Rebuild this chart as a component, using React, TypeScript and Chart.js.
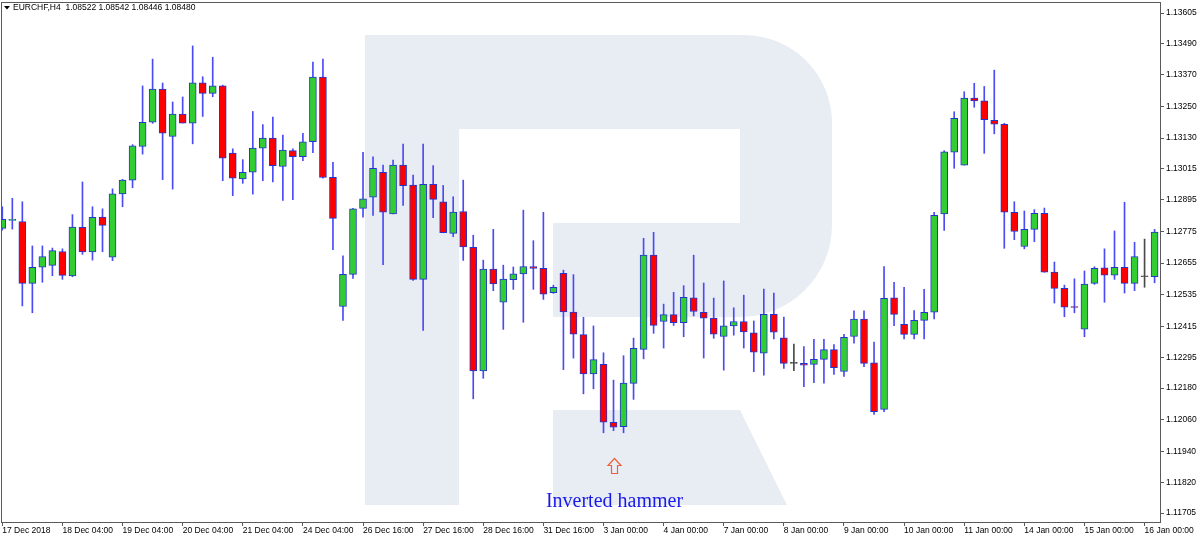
import React, { useEffect, useRef } from "react";
import { Chart, registerables } from "chart.js";

Chart.register(...registerables);

// ---- DATA (EURCHF, H4) ----
const opens = [
  1.12787, 1.12817, 1.12813, 1.12578, 1.12639, 1.12646, 1.12699, 1.12606, 1.12791, 1.12697,
  1.12830, 1.12677, 1.12918, 1.12970, 1.13098, 1.13190, 1.13316, 1.13136, 1.13221, 1.13187,
  1.13340, 1.13300, 1.13328, 1.13073, 1.12975, 1.13000, 1.13092, 1.13130, 1.13022, 1.13082,
  1.13059, 1.13116, 1.13362, 1.12981, 1.12490, 1.12612, 1.12863, 1.12905, 1.13000, 1.12842,
  1.13027, 1.12951, 1.12593, 1.12954, 1.12888, 1.12768, 1.12851, 1.12715, 1.12245, 1.12632,
  1.12506, 1.12592, 1.12614, 1.12642, 1.12635, 1.12542, 1.12616, 1.12469, 1.12383, 1.12234,
  1.12270, 1.12050, 1.12033, 1.12198, 1.12327, 1.12685, 1.12433, 1.12459, 1.12428, 1.12523,
  1.12468, 1.12446, 1.12376, 1.12416, 1.12433, 1.12390, 1.12313, 1.12460, 1.12371, 1.12274,
  1.12274, 1.12270, 1.12289, 1.12326, 1.12243, 1.12376, 1.12442, 1.12276, 1.12099, 1.12523,
  1.12422, 1.12384, 1.12437, 1.12468, 1.12842, 1.13076, 1.13027, 1.13282, 1.13271, 1.13197,
  1.13182, 1.12848, 1.12718, 1.12783, 1.12844, 1.12621, 1.12559, 1.12487, 1.12404, 1.12578,
  1.12637, 1.12609, 1.12639, 1.12578, 1.12603, 1.12603,
];
const highs = [
  1.12869, 1.12901, 1.12888, 1.12720, 1.12720, 1.12712, 1.12709, 1.12839, 1.12963, 1.12869,
  1.12861, 1.12937, 1.12973, 1.13105, 1.13328, 1.13430, 1.13339, 1.13267, 1.13286, 1.13480,
  1.13363, 1.13437, 1.13331, 1.13089, 1.13048, 1.13231, 1.13181, 1.13210, 1.13141, 1.13089,
  1.13148, 1.13419, 1.13430, 1.13038, 1.12682, 1.12863, 1.13076, 1.13059, 1.13027, 1.13046,
  1.13107, 1.12989, 1.13107, 1.13025, 1.12950, 1.12907, 1.12970, 1.12761, 1.12666, 1.12783,
  1.12647, 1.12640, 1.12856, 1.12740, 1.12848, 1.12571, 1.12628, 1.12611, 1.12449, 1.12416,
  1.12314, 1.12210, 1.12303, 1.12370, 1.12749, 1.12772, 1.12499, 1.12544, 1.12569, 1.12685,
  1.12579, 1.12522, 1.12587, 1.12485, 1.12533, 1.12435, 1.12556, 1.12541, 1.12450, 1.12347,
  1.12338, 1.12365, 1.12365, 1.12345, 1.12384, 1.12473, 1.12473, 1.12355, 1.12642, 1.12582,
  1.12563, 1.12474, 1.12555, 1.12848, 1.13082, 1.13230, 1.13306, 1.13338, 1.13326, 1.13388,
  1.13186, 1.12888, 1.12853, 1.12858, 1.12864, 1.12659, 1.12571, 1.12595, 1.12625, 1.12641,
  1.12709, 1.12777, 1.12886, 1.12734, 1.12746, 1.12783,
];
const lows = [
  1.12780, 1.12784, 1.12492, 1.12466, 1.12582, 1.12607, 1.12593, 1.12603, 1.12688, 1.12666,
  1.12698, 1.12664, 1.12869, 1.12941, 1.13069, 1.13186, 1.12972, 1.12936, 1.13187, 1.13108,
  1.13212, 1.13287, 1.12968, 1.12911, 1.12958, 1.12917, 1.12968, 1.12963, 1.12893, 1.12896,
  1.13044, 1.13074, 1.12978, 1.12706, 1.12437, 1.12597, 1.12829, 1.12836, 1.12649, 1.12842,
  1.12874, 1.12589, 1.12399, 1.12827, 1.12770, 1.12755, 1.12665, 1.12139, 1.12217, 1.12550,
  1.12403, 1.12555, 1.12430, 1.12555, 1.12517, 1.12540, 1.12250, 1.12294, 1.12158, 1.12177,
  1.12010, 1.12018, 1.12010, 1.12137, 1.12291, 1.12388, 1.12332, 1.12418, 1.12375, 1.12454,
  1.12294, 1.12369, 1.12248, 1.12381, 1.12332, 1.12242, 1.12229, 1.12367, 1.12255, 1.12246,
  1.12185, 1.12200, 1.12199, 1.12232, 1.12224, 1.12351, 1.12261, 1.12080, 1.12090, 1.12417,
  1.12367, 1.12367, 1.12367, 1.12443, 1.12779, 1.13015, 1.13027, 1.13247, 1.13072, 1.13146,
  1.12711, 1.12744, 1.12709, 1.12736, 1.12620, 1.12503, 1.12451, 1.12466, 1.12375, 1.12574,
  1.12506, 1.12593, 1.12541, 1.12550, 1.12563, 1.12580,
];
const closes = [
  1.12821, 1.12818, 1.12578, 1.12639, 1.12680, 1.12702, 1.12608, 1.12792, 1.12697, 1.12829,
  1.12798, 1.12918, 1.12970, 1.13100, 1.13190, 1.13316, 1.13149, 1.13221, 1.13187, 1.13340,
  1.13300, 1.13328, 1.13054, 1.12978, 1.13000, 1.13092, 1.13130, 1.13025, 1.13084, 1.13059,
  1.13116, 1.13362, 1.12980, 1.12825, 1.12612, 1.12861, 1.12899, 1.13015, 1.12848, 1.13027,
  1.12949, 1.12593, 1.12954, 1.12897, 1.12770, 1.12849, 1.12716, 1.12245, 1.12632, 1.12576,
  1.12594, 1.12614, 1.12642, 1.12635, 1.12537, 1.12563, 1.12469, 1.12385, 1.12234, 1.12288,
  1.12050, 1.12031, 1.12199, 1.12331, 1.12685, 1.12418, 1.12459, 1.12428, 1.12525, 1.12471,
  1.12446, 1.12385, 1.12416, 1.12433, 1.12393, 1.12316, 1.12460, 1.12392, 1.12274, 1.12274,
  1.12267, 1.12289, 1.12326, 1.12257, 1.12373, 1.12442, 1.12274, 1.12090, 1.12521, 1.12460,
  1.12384, 1.12437, 1.12468, 1.12836, 1.13078, 1.13205, 1.13282, 1.13271, 1.13200, 1.13183,
  1.12848, 1.12775, 1.12783, 1.12844, 1.12620, 1.12559, 1.12487, 1.12486, 1.12575, 1.12635,
  1.12609, 1.12639, 1.12578, 1.12680, 1.12603, 1.12773,
];

const xTickLabels = [
  "17 Dec 2018", "18 Dec 04:00", "19 Dec 04:00", "20 Dec 04:00", "21 Dec 04:00",
  "24 Dec 04:00", "26 Dec 16:00", "27 Dec 16:00", "28 Dec 16:00", "31 Dec 16:00",
  "3 Jan 00:00", "4 Jan 00:00", "7 Jan 00:00", "8 Jan 00:00", "9 Jan 00:00",
  "10 Jan 00:00", "11 Jan 00:00", "14 Jan 00:00", "15 Jan 00:00", "16 Jan 00:00",
];
const barsPerLabel = 6;

const yTickLabels = [
  "1.13605", "1.13490", "1.13370", "1.13250", "1.13130", "1.13015", "1.12895", "1.12775",
  "1.12655", "1.12535", "1.12415", "1.12295", "1.12180", "1.12060", "1.11940", "1.11820", "1.11705",
];
const yAxisMax = 1.13647;
const yAxisMin = 1.11671;
const xAxisMin = -0.13;
const xAxisMax = 115.54;

const headerText = "EURCHF,H4  1.08522 1.08542 1.08446 1.08480";
const annotationIndex = 61;
const annotationArrowPrice = 1.11914;
const annotationText = "Inverted hammer";

// ---- STYLE ----
const UP = "#32cd32";
const DOWN = "#ff0000";
const DOJI = "#4a4a4a";
const BODY_BORDER = "#2435cf";
const WICK = "#4b4bf5";
const FRAME = "#5a5a5a";
const FONT = { family: "'Liberation Sans', Arial, sans-serif", size: 8.5 };

const bodyColor = (i: number) =>
  closes[i] > opens[i] ? UP : closes[i] < opens[i] ? DOWN : DOJI;

const watermarkPlugin = {
  id: "watermark",
  beforeDatasetsDraw(chart: any) {
    const ctx = chart.ctx;
    ctx.save();
    ctx.fillStyle = "#e8edf4";
    ctx.beginPath();
    ctx.moveTo(365, 35);
    ctx.lineTo(745, 35);
    ctx.arcTo(832, 35, 832, 125, 88);
    ctx.lineTo(832, 225);
    ctx.arcTo(832, 317, 740, 317, 92);
    ctx.lineTo(553, 317);
    ctx.lineTo(553, 223);
    ctx.lineTo(740, 223);
    ctx.lineTo(740, 129);
    ctx.lineTo(459, 129);
    ctx.lineTo(459, 505);
    ctx.lineTo(365, 505);
    ctx.closePath();
    ctx.moveTo(553, 410);
    ctx.lineTo(740, 410);
    ctx.lineTo(787, 505);
    ctx.lineTo(553, 505);
    ctx.closePath();
    ctx.fill();
    ctx.restore();
  },
};

const overlayPlugin = {
  id: "overlay",
  afterDraw(chart: any) {
    const ctx = chart.ctx;
    const { left, top, right, bottom } = chart.chartArea;
    const xs = chart.scales.x;
    const ys = chart.scales.y;
    ctx.save();
    // frame
    ctx.strokeStyle = FRAME;
    ctx.lineWidth = 1;
    ctx.strokeRect(left + 0.5, top + 0.5, right - left, bottom - top);

    // header
    ctx.fillStyle = "#000";
    ctx.beginPath();
    ctx.moveTo(4, 6);
    ctx.lineTo(10, 6);
    ctx.lineTo(7, 9.5);
    ctx.closePath();
    ctx.fill();
    ctx.font = `${FONT.size}px ${FONT.family}`;
    ctx.textBaseline = "middle";
    ctx.textAlign = "left";
    ctx.fillText(headerText, 13, 8);

    // annotation
    const cx = Math.round(xs.getPixelForValue(annotationIndex)) + 0.5;
    const tipY = Math.round(ys.getPixelForValue(annotationArrowPrice)) + 0.5;
    ctx.strokeStyle = "#f0603c";
    ctx.lineWidth = 1.2;
    ctx.beginPath();
    ctx.moveTo(cx, tipY);
    ctx.lineTo(cx + 6.5, tipY + 7);
    ctx.lineTo(cx + 3, tipY + 7);
    ctx.lineTo(cx + 3, tipY + 15);
    ctx.lineTo(cx - 3, tipY + 15);
    ctx.lineTo(cx - 3, tipY + 7);
    ctx.lineTo(cx - 6.5, tipY + 7);
    ctx.closePath();
    ctx.stroke();

    ctx.fillStyle = "#1a1ae6";
    ctx.font = "20px 'Liberation Serif', 'Times New Roman', serif";
    ctx.textAlign = "center";
    ctx.textBaseline = "alphabetic";
    ctx.fillText(annotationText, cx, tipY + 48);
    ctx.restore();
  },
};

export default function App() {
  const ref = useRef<HTMLCanvasElement | null>(null);

  useEffect(() => {
    if (!ref.current) return;
    const bodies = opens.map((o, i) => ({ x: i, y: [o, closes[i]] }));
    const wicks = lows.map((l, i) => ({ x: i, y: [l, highs[i]] }));

    const chart = new Chart(ref.current, {
      type: "bar",
      data: {
        datasets: [
          {
            label: "body",
            data: bodies as any,
            grouped: false,
            barThickness: 7,
            borderWidth: 1,
            borderSkipped: false,
            minBarLength: 1,
            order: 0,
            backgroundColor: (c: any) => bodyColor(c.dataIndex),
            borderColor: (c: any) =>
              closes[c.dataIndex] === opens[c.dataIndex] ? DOJI : BODY_BORDER,
          } as any,
          {
            label: "wick",
            data: wicks as any,
            grouped: false,
            barThickness: 1,
            borderWidth: 0,
            order: 1,
            backgroundColor: (c: any) =>
              closes[c.dataIndex] === opens[c.dataIndex] ? DOJI : WICK,
          } as any,
        ],
      },
      options: {
        responsive: false,
        animation: false,
        devicePixelRatio: 1,
        layout: { padding: { left: 1, top: 2, right: 0, bottom: 0 } },
        plugins: {
          legend: { display: false },
          tooltip: { enabled: false },
          title: { display: false },
        },
        scales: {
          x: {
            type: "linear",
            min: xAxisMin,
            max: xAxisMax,
            offset: false,
            afterBuildTicks: (s: any) => {
              s.ticks = xTickLabels.map((_, k) => ({ value: k * barsPerLabel }));
            },
            afterFit: (s: any) => {
              s.height = 18;
              s.paddingLeft = 0;
              s.paddingRight = 0;
            },
            ticks: {
              callback: (v: any) => xTickLabels[Math.round(Number(v) / barsPerLabel)],
              align: "start",
              maxRotation: 0,
              minRotation: 0,
              autoSkip: false,
              padding: 0,
              font: FONT,
              color: "#000",
            },
            grid: { drawOnChartArea: false, tickLength: 4, color: FRAME, offset: false },
            border: { display: false },
          } as any,
          y: {
            position: "right",
            min: yAxisMin,
            max: yAxisMax,
            afterBuildTicks: (s: any) => {
              s.ticks = yTickLabels.map((l) => ({ value: parseFloat(l) })).sort((a, b) => a.value - b.value);
            },
            afterFit: (s: any) => {
              s.width = 40;
              s.paddingTop = 0;
              s.paddingBottom = 0;
            },
            ticks: {
              callback: (v: any) =>
                yTickLabels.find((l) => Math.abs(parseFloat(l) - Number(v)) < 1e-7) || "",
              autoSkip: false,
              padding: 2,
              font: FONT,
              color: "#000",
            },
            grid: { drawOnChartArea: false, tickLength: 4, color: FRAME },
            border: { display: false },
          } as any,
        },
      },
      plugins: [watermarkPlugin, overlayPlugin],
    });
    return () => chart.destroy();
  }, []);

  return (
    <div style={{ position: "absolute", left: 0, top: 0, width: 1200, height: 540, background: "#fff" }}>
      <canvas ref={ref} width={1200} height={540} style={{ display: "block" }} />
    </div>
  );
}
